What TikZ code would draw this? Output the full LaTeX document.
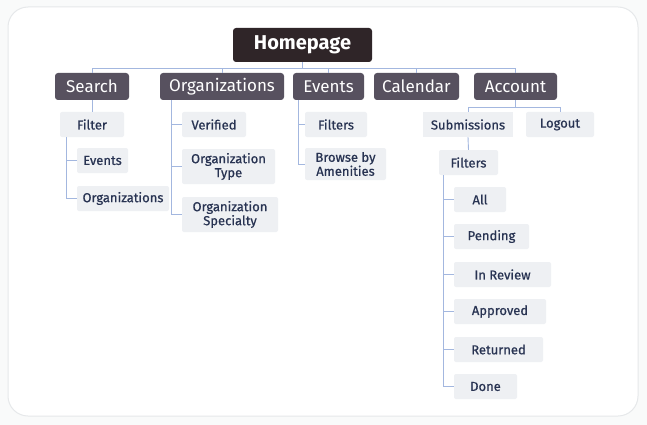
\documentclass[tikz,border=0pt]{standalone}
\usepackage{fontspec}
\setmainfont{Fira Sans}
\newfontfamily\leaffont{Fira Sans}[FakeBold=0.7]
\definecolor{bgc}{HTML}{F9FAFA}
\definecolor{cardline}{HTML}{E6E8EA}
\definecolor{homefill}{HTML}{2F2528}
\definecolor{topfill}{HTML}{57515F}
\definecolor{leaffill}{HTML}{EEF0F3}
\definecolor{leaftext}{HTML}{283352}
\definecolor{linkc}{HTML}{A3B7DF}
\begin{document}
\begin{tikzpicture}[x=1pt,y=-1pt,
  homebox/.style={fill=homefill,rounded corners=3pt,text=white,font=\bfseries\fontsize{20}{22}\selectfont,inner sep=0pt},
  topbox/.style={fill=topfill,rounded corners=3pt,text=white,font=\fontsize{17}{19}\selectfont,inner sep=0pt},
  leafbox/.style={fill=leaffill,rounded corners=2pt,text=leaftext,font=\leaffont\fontsize{13}{14}\selectfont,inner sep=0pt,align=center},
  link/.style={draw=linkc,line width=0.9pt}]
\fill[bgc] (0,0) rectangle (647,425);
\useasboundingbox (0,0) rectangle (647,425);
\filldraw[fill=white,draw=cardline,line width=1pt,rounded corners=20pt] (8,7) rectangle (638,416);
% boxes: center, width, height
\newcommand{\bx}[6]{\node[#1,minimum width=#4-#3,minimum height=#6-#5] (#2) at ({(#3+#4)/2},{(#5+#6)/2})}
\bx{homebox}{home}{233}{372}{28}{62}{Homepage};
\bx{topbox}{search}{55}{129}{73}{100}{Search};
\bx{topbox}{orgs}{160}{284}{73}{100}{Organizations};
\bx{topbox}{events}{293}{364}{73}{100}{Events};
\bx{topbox}{cal}{374}{459}{73}{100}{Calendar};
\bx{topbox}{acc}{474}{557}{73}{100}{Account};
% search
\bx{leafbox}{filter}{60}{124}{112}{137}{Filter};
\bx{leafbox}{sev}{77}{128}{148}{173}{Events};
\bx{leafbox}{sorg}{77}{169}{186}{211}{Organizations};
% orgs
\bx{leafbox}{ver}{182}{246}{112}{137}{Verified};
\bx{leafbox}{otype}{182}{275}{149}{184}{Organization\\Type};
\bx{leafbox}{ospec}{182}{278}{197}{232}{Organization\\Specialty};
% events
\bx{leafbox}{efil}{305}{367}{112}{137}{Filters};
\bx{leafbox}{ebrowse}{305}{386}{148}{180}{Browse by\\Amenities};
% account
\node[leafbox,rounded corners=0pt,minimum width=90,minimum height=25] (subm) at (468,124.5) {Submissions};
\bx{leafbox}{logout}{526}{594}{112}{137}{Logout};
\bx{leafbox}{afil}{439}{498}{150}{175}{Filters};
\bx{leafbox}{all}{454}{506}{187}{212}{All};
\bx{leafbox}{pend}{454}{529}{224}{249}{Pending};
\bx{leafbox}{inrev}{454}{551}{262}{287}{In Review};
\bx{leafbox}{appr}{454}{546}{299}{324}{Approved};
\bx{leafbox}{ret}{454}{543}{337}{362}{Returned};
\bx{leafbox}{done}{454}{517}{374}{399}{Done};
% connectors
\coordinate (bus) at (0,68);
\draw[link] (home.south) -- (home.south |- bus);
\draw[link] (search.north) -- (search.north |- bus) -- (acc.north |- bus) -- (acc.north);
\draw[link] (orgs.north) -- (orgs.north |- bus);
\draw[link] (events.north) -- (events.north |- bus);
\draw[link] (cal.north) -- (cal.north |- bus);
\draw[link] (search.south) -- (filter.north);
\draw[link] ([xshift=7pt]filter.south west) |- (sev.west);
\draw[link] ([xshift=7pt]filter.south west) |- (sorg.west);
\draw[link] ([xshift=12pt]orgs.south west) |- (ver.west);
\draw[link] ([xshift=12pt]orgs.south west) |- (otype.west);
\draw[link] ([xshift=12pt]orgs.south west) |- (ospec.west);
\draw[link] ([xshift=6pt]events.south west) |- (efil.west);
\draw[link] ([xshift=6pt]events.south west) |- (ebrowse.west);
\coordinate (abus) at (0,107);
\draw[link] (acc.south) -- (acc.south |- abus);
\draw[link] (subm.north) -- (subm.north |- abus) -- (logout.north |- abus) -- (logout.north);
\draw[link] (subm.south) -- (afil.north);
\foreach \n in {all,pend,inrev,appr,ret,done}
  \draw[link] ([xshift=5pt]afil.south west) |- (\n.west);
\end{tikzpicture}
\end{document}
